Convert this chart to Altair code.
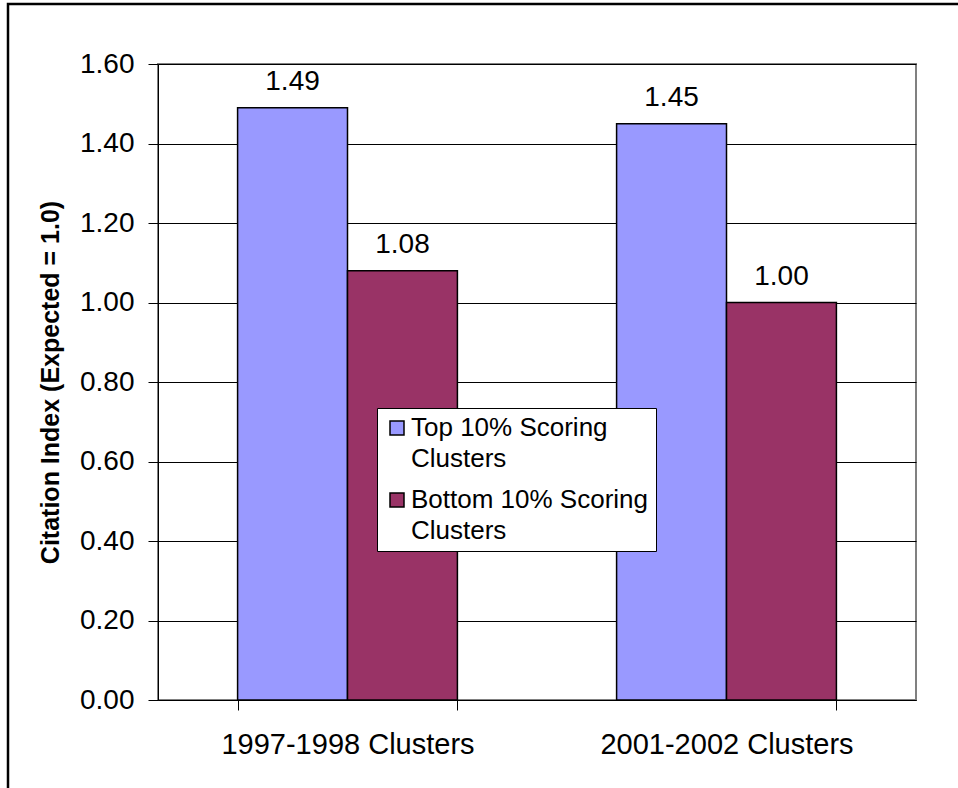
import altair as alt
import pandas as pd

# Citation index of the top and bottom scoring clusters, two cohorts
periods = ["1997-1998 Clusters", "2001-2002 Clusters"]
groups = ["Top 10% Scoring Clusters", "Bottom 10% Scoring Clusters"]
top_values = [1.49, 1.45]
bottom_values = [1.08, 1.00]
y_ticks = [0.0, 0.2, 0.4, 0.6, 0.8, 1.0, 1.2, 1.4, 1.6]
group_colors = ["#9999FF", "#993366"]

rows = []
for period, top, bottom in zip(periods, top_values, bottom_values):
    rows.append({"period": period, "group": groups[0], "value": top})
    rows.append({"period": period, "group": groups[1], "value": bottom})
df = pd.DataFrame(rows)

FONT = "Liberation Sans"
W, H = 758, 636

x_enc = alt.X(
    "period:N",
    sort=periods,
    title=None,
    scale=alt.Scale(paddingInner=0.42, paddingOuter=0.21),
    axis=alt.Axis(
        labelAngle=0,
        tickBand="extent",
        tickSize=10,
        tickColor="black",
        domainColor="black",
        labelFontSize=29,
        labelColor="black",
        labelLimit=500,
        labelPadding=20,
        grid=False,
    ),
)
xoff_enc = alt.XOffset(
    "group:N", sort=groups, scale=alt.Scale(paddingInner=0, paddingOuter=0)
)
y_enc = alt.Y(
    "value:Q",
    scale=alt.Scale(domain=[0, 1.6], nice=False),
    axis=alt.Axis(
        values=y_ticks,
        format=".2f",
        title="Citation Index (Expected = 1.0)",
        titleFontSize=25,
        titleFontWeight="bold",
        titleColor="black",
        titleAngle=270,
        titleAlign="center",
        titleBaseline="middle",
        titleX=-108,
        labelFontSize=28,
        labelColor="black",
        labelPadding=14,
        tickSize=10,
        tickColor="black",
        domainColor="black",
        grid=True,
        gridColor="black",
        gridOpacity=1,
        gridWidth=1,
    ),
)

legend = alt.Legend(
    title=None,
    orient="none",
    legendX=219,
    legendY=344,
    fillColor="white",
    strokeColor="black",
    padding=7,
    symbolType="square",
    symbolSize=196,
    symbolStrokeColor="black",
    symbolStrokeWidth=1.5,
    symbolOpacity=1,
    labelFontSize=26,
    labelColor="black",
    labelFont=FONT,
    labelLimit=400,
    labelOffset=1,
    rowPadding=15,
    labelExpr="split(replace(datum.label, ' Clusters', '|Clusters'), '|')",
)

bars = alt.Chart(df).mark_bar(stroke="black", strokeWidth=1.5).encode(
    x=x_enc,
    xOffset=xoff_enc,
    y=y_enc,
    color=alt.Color(
        "group:N",
        sort=groups,
        scale=alt.Scale(domain=groups, range=group_colors),
        legend=legend,
    ),
)

labels = alt.Chart(df).mark_text(
    dy=-18, baseline="alphabetic", fontSize=28, font=FONT, color="black"
).encode(
    x=alt.X("period:N", sort=periods),
    xOffset=alt.XOffset("group:N", sort=groups),
    y=alt.Y("value:Q"),
    text=alt.Text("value:Q", format=".2f"),
)

# frame around the whole figure
frame = alt.Chart(pd.DataFrame({"k": [0]})).mark_rect(
    fillOpacity=0, stroke="black", strokeWidth=2.5
).encode(
    x=alt.value(-150),
    y=alt.value(-60),
    x2=alt.value(900),
    y2=alt.value(800),
)

chart = (
    alt.layer(frame, bars, labels)
    .properties(
        width=W,
        height=H,
        autosize=alt.AutoSizeParams(type="none"),
        padding={"left": 158, "top": 64, "right": 42, "bottom": 88},
    )
    .configure(font=FONT, style={"guide-label": {"lineHeight": 31}})
    .configure_view(stroke="#808080", strokeWidth=2)
)

chart.save("out.html", embed_options={"renderer": "svg", "actions": False})
